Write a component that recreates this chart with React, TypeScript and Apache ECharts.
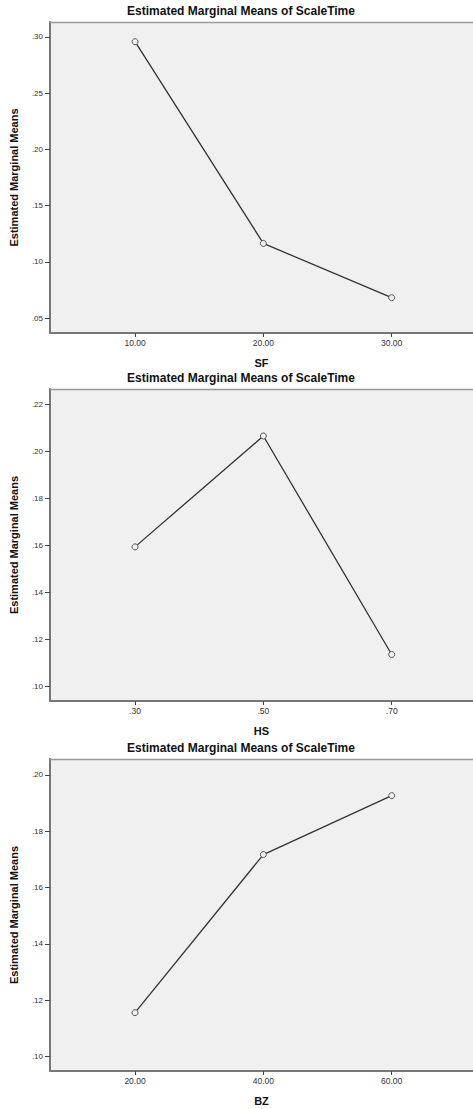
import React, { useEffect, useRef } from "react";
import * as echarts from "echarts";

const titleText = "Estimated Marginal Means of ScaleTime";
const yName = "Estimated Marginal Means";

const sfLevels = [10, 20, 30];
const sfMeans = [0.2958, 0.1164, 0.0681];
const sfYTicks = [0.05, 0.1, 0.15, 0.2, 0.25, 0.3];

const hsLevels = [0.3, 0.5, 0.7];
const hsMeans = [0.1593, 0.2065, 0.1135];
const hsYTicks = [0.1, 0.12, 0.14, 0.16, 0.18, 0.2, 0.22];

const bzLevels = [20, 40, 60];
const bzMeans = [0.1156, 0.1717, 0.1926];
const bzYTicks = [0.1, 0.12, 0.14, 0.16, 0.18, 0.2];

const font = "'Liberation Sans', Arial, sans-serif";

export default function App() {
  const ref = useRef<HTMLDivElement>(null);
  useEffect(() => {
    if (!ref.current) return;
    const chart = echarts.init(ref.current, null, { renderer: "svg" });

    const panels = [
      { name: "SF", levels: sfLevels, means: sfMeans, yTicks: sfYTicks, xMin: 3.37, xMax: 36.34, yMin: 0.0367, yMax: 0.3133, top: 22, height: 311, titleTop: 5, xFmt: (v: number) => v.toFixed(2) },
      { name: "HS", levels: hsLevels, means: hsMeans, yTicks: hsYTicks, xMin: 0.1675, xMax: 0.8267, yMin: 0.0937, yMax: 0.2265, top: 389, height: 312, titleTop: 372, xFmt: (v: number) => v.toFixed(2).replace(/^0/, "") },
      { name: "BZ", levels: bzLevels, means: bzMeans, yTicks: bzYTicks, xMin: 6.75, xMax: 72.67, yMin: 0.0949, yMax: 0.2056, top: 759, height: 312, titleTop: 742, xFmt: (v: number) => v.toFixed(2) },
    ];

    const yFmt = (v: number) => v.toFixed(2).replace(/^0/, "");

    chart.setOption({
      animation: false,
      backgroundColor: "#ffffff",
      title: panels.map((p) => ({
        text: titleText,
        left: 241,
        top: p.titleTop,
        textAlign: "center",
        padding: 0,
        textStyle: { fontFamily: font, fontSize: 12, fontWeight: "bold", color: "#111" },
      })),
      graphic: panels.map((p) => ({
        type: "line",
        shape: { x1: 50, y1: p.top + 0.5, x2: 473, y2: p.top + 0.5 },
        style: { stroke: "#999", lineWidth: 1.5 },
        z: 10,
      })),
      grid: panels.map((p) => ({
        left: 50,
        top: p.top,
        right: 0,
        height: p.height,
        show: true,
        backgroundColor: "#f0f0f0",
        borderWidth: 0,
        containLabel: false,
      })),
      xAxis: panels.map((p, i) => ({
        type: "value",
        gridIndex: i,
        min: p.xMin,
        max: p.xMax,
        name: p.name,
        nameLocation: "middle",
        nameGap: 24,
        nameTextStyle: { fontFamily: font, fontSize: 11, fontWeight: "bold", color: "#111" },
        axisLine: { show: true, onZero: false, lineStyle: { color: "#777", width: 2 } },
        axisTick: { show: true, inside: false, length: 4, customValues: p.levels, lineStyle: { color: "#444", width: 1 } },
        axisLabel: { customValues: p.levels, formatter: p.xFmt, fontFamily: font, fontSize: 8.5, color: "#333", margin: 5 },
        splitLine: { show: false },
      })),
      yAxis: panels.map((p, i) => ({
        type: "value",
        gridIndex: i,
        min: p.yMin,
        max: p.yMax,
        name: yName,
        nameLocation: "middle",
        nameGap: 31,
        nameRotate: 90,
        nameTextStyle: { fontFamily: font, fontSize: 11, fontWeight: "bold", color: "#111" },
        axisLine: { show: true, onZero: false, lineStyle: { color: "#777", width: 2 } },
        axisTick: { show: true, inside: false, length: 5, customValues: p.yTicks, lineStyle: { color: "#444", width: 1 } },
        axisLabel: { customValues: p.yTicks, formatter: yFmt, fontFamily: font, fontSize: 8, color: "#333", margin: 7 },
        splitLine: { show: false },
      })),
      series: panels.map((p, i) => ({
        type: "line",
        xAxisIndex: i,
        yAxisIndex: i,
        data: p.levels.map((x, j) => [x, p.means[j]]),
        symbol: "circle",
        symbolSize: 6,
        lineStyle: { color: "#333", width: 1.3 },
        itemStyle: { color: "#f0f0f0", borderColor: "#555", borderWidth: 1 },
        z: 3,
      })),
    });
    return () => chart.dispose();
  }, []);
  return (
    <div
      ref={ref}
      style={{ position: "absolute", left: 0, top: 0, width: 473, height: 1109 }}
    />
  );
}
